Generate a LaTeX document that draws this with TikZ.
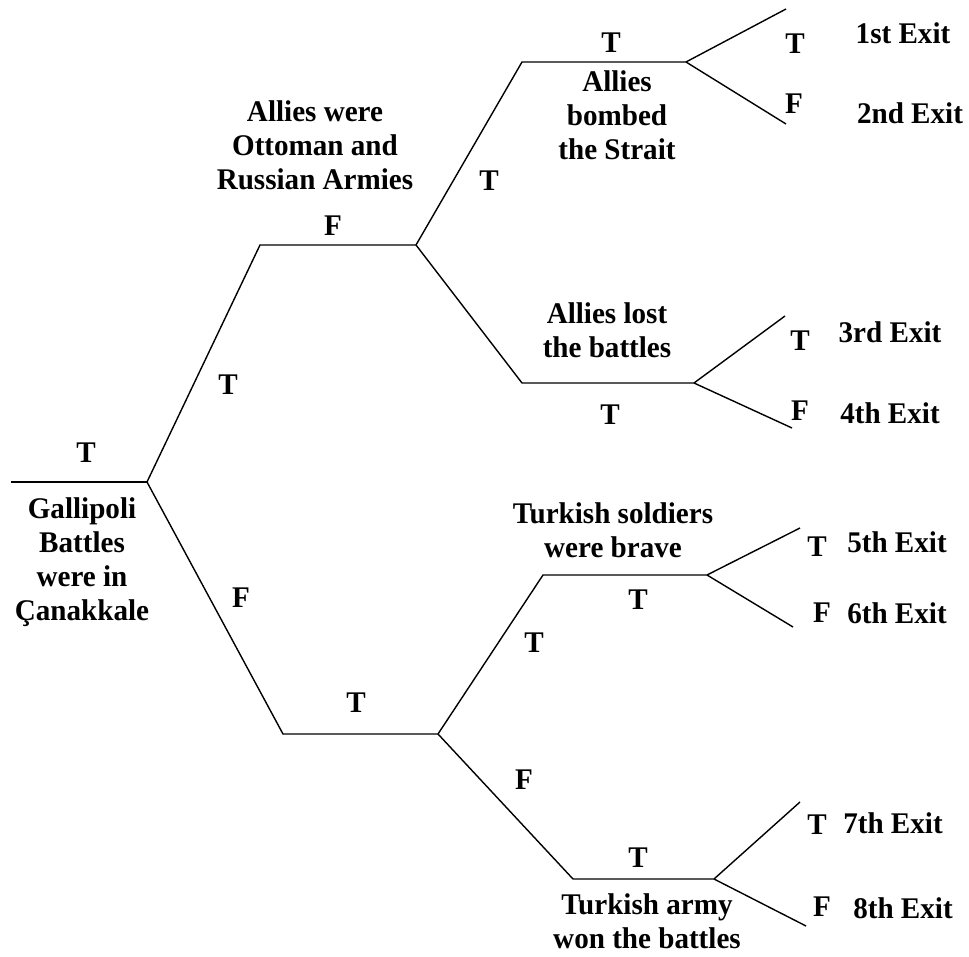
\documentclass[tikz,border=0pt]{standalone}
\usepackage{fontspec}
\setmainfont{Liberation Serif}
\begin{document}
\begin{tikzpicture}[x=1pt,y=-1pt,
  branch/.style={line width=1.4pt, black},
  lbl/.style={font=\fontsize{30}{34}\selectfont\bfseries, inner sep=0pt, align=center, xscale=0.97},
  stmt/.style={lbl, anchor=base},
  tf/.style={lbl}]
\useasboundingbox (0,0) rectangle (969,957);

% decision points and stems
\coordinate (r0) at (11,482);
\coordinate (r)  at (147,482);
\coordinate (a0) at (260,245);
\coordinate (a)  at (416,245);
\coordinate (b0) at (522,62);
\coordinate (b)  at (686,62);
\coordinate (b1) at (786,9);
\coordinate (b2) at (786,124);
\coordinate (c0) at (522,383);
\coordinate (c)  at (694,383);
\coordinate (c1) at (785,316);
\coordinate (c2) at (792,428);
\coordinate (d0) at (283,734);
\coordinate (d)  at (438,734);
\coordinate (e0) at (543,575);
\coordinate (e)  at (707,575);
\coordinate (e1) at (800,528);
\coordinate (e2) at (793,627);
\coordinate (f0) at (573,879);
\coordinate (f)  at (714,879);
\coordinate (f1) at (800,802);
\coordinate (f2) at (806,926);

% tree branches
\draw[branch] (r0) -- (r);
\draw[branch] (r) -- (a0) -- (a);
\draw[branch] (a) -- (b0) -- (b);
\draw[branch] (b) -- (b1);
\draw[branch] (b) -- (b2);
\draw[branch] (a) -- (c0) -- (c);
\draw[branch] (c) -- (c1);
\draw[branch] (c) -- (c2);
\draw[branch] (r) -- (d0) -- (d);
\draw[branch] (d) -- (e0) -- (e);
\draw[branch] (e) -- (e1);
\draw[branch] (e) -- (e2);
\draw[branch] (d) -- (f0) -- (f);
\draw[branch] (f) -- (f1);
\draw[branch] (f) -- (f2);

% statements (placed by the baseline of their last line)
\node[stmt] (sRoot) at (82,620) {Gallipoli\\Battles\\were in\\Çanakkale};
\node[stmt] (sA) at (315,190) {Allies were\\Ottoman and\\Russian Armies};
\node[stmt] (sB) at (617,160) {Allies\\bombed\\the Strait};
\node[stmt] (sC) at (607,358) {Allies lost\\the battles};
\node[stmt] (sE) at (613,557) {Turkish soldiers\\were brave};
\node[stmt] (sF) at (647,948) {Turkish army\\won the battles};

% truth values
\node[tf] (t0) at (86,453) {T};
\node[tf] (t1) at (228,385) {T};
\node[tf] (t2) at (333,226) {F};
\node[tf] (t3) at (489,181) {T};
\node[tf] (t4) at (611,43) {T};
\node[tf] (t5) at (795,44) {T};
\node[tf] (t6) at (794,104) {F};
\node[tf] (t7) at (610,415) {T};
\node[tf] (t8) at (800,341) {T};
\node[tf] (t9) at (800,411) {F};
\node[tf] (t10) at (241,598) {F};
\node[tf] (t11) at (356,703) {T};
\node[tf] (t12) at (534,643) {T};
\node[tf] (t13) at (638,600) {T};
\node[tf] (t14) at (817,547) {T};
\node[tf] (t15) at (822,613) {F};
\node[tf] (t16) at (524,780) {F};
\node[tf] (t17) at (638,858) {T};
\node[tf] (t18) at (817,825) {T};
\node[tf] (t19) at (822,907) {F};

% outcomes
\node[lbl] (x1) at (903,33) {1st Exit};
\node[lbl] (x2) at (910,113) {2nd Exit};
\node[lbl] (x3) at (890,332) {3rd Exit};
\node[lbl] (x4) at (890,413) {4th Exit};
\node[lbl] (x5) at (897,542) {5th Exit};
\node[lbl] (x6) at (897,613) {6th Exit};
\node[lbl] (x7) at (893,823) {7th Exit};
\node[lbl] (x8) at (903,908) {8th Exit};
\end{tikzpicture}
\end{document}
